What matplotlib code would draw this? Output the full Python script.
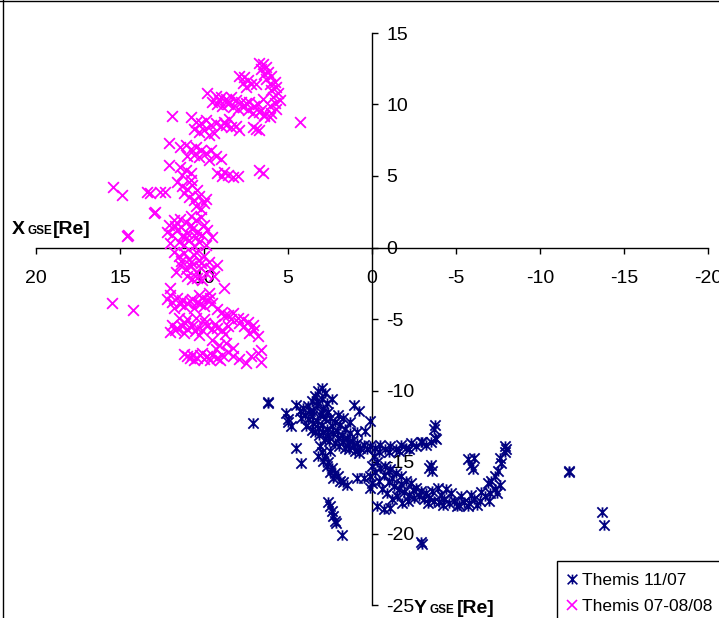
import numpy as np
import matplotlib
import matplotlib.pyplot as plt
from matplotlib.path import Path
from matplotlib.lines import Line2D
from matplotlib.patches import Rectangle

plt.rcParams['font.family'] = ['Liberation Sans', 'DejaVu Sans']
plt.rcParams['axes.unicode_minus'] = False

# ---------------------------------------------------------------------------
# Data (Y_GSE, X_GSE) in Re
# ---------------------------------------------------------------------------
MAGENTA_PTS = [
    # top blob and right column
    (6.7, 12.9), (6.5, 12.8), (6.3, 12.6), (6.6, 12.5), (6.2, 12.3), (6.4, 12.1),
    (6.0, 12.0), (6.3, 11.8), (5.8, 11.6), (6.1, 11.4), (5.7, 11.2), (6.0, 11.0),
    (5.6, 10.8), (5.9, 10.5), (5.5, 10.3), (5.8, 10.1), (6.1, 9.9), (5.7, 9.7),
    (6.0, 9.4), (6.4, 9.2), (6.6, 9.6), (6.8, 10.0), (6.5, 10.4), (6.9, 11.4),
    (7.9, 12.0), (7.6, 11.9), (7.4, 11.7), (7.7, 11.5), (7.2, 11.4), (7.5, 11.2),
    # upper left cluster
    (9.8, 10.8), (9.3, 10.6), (9.0, 10.5), (8.7, 10.4), (8.4, 10.5), (8.1, 10.3),
    (7.8, 10.2), (7.5, 10.1), (9.5, 10.2), (9.2, 10.0), (8.9, 9.9), (8.6, 10.0),
    (8.3, 9.8), (8.0, 9.7), (7.7, 9.8), (7.4, 9.6), (9.1, 10.3), (8.5, 10.2),
    (7.3, 10.2), (7.0, 9.9), (6.7, 9.5), (6.4, 9.3), (6.1, 9.1), (7.1, 9.4),
    (11.9, 9.2), (4.3, 8.8),
    (10.8, 9.1), (10.5, 8.8), (10.2, 8.7), (9.9, 8.9), (9.6, 8.6), (9.3, 8.7),
    (9.0, 8.5), (8.7, 8.6), (8.4, 8.4), (8.1, 8.5), (7.9, 8.2), (10.6, 8.3),
    (10.3, 8.1), (10.0, 8.2), (9.7, 7.9), (9.4, 8.0), (8.8, 8.8), (8.5, 9.0),
    (7.1, 8.4), (6.9, 8.3), (6.7, 8.2),
    (12.1, 7.3),
    (11.4, 7.0), (11.1, 7.2), (10.8, 6.9), (10.5, 7.0), (10.2, 6.8), (9.9, 6.6),
    (9.6, 6.8), (9.3, 6.4), (9.0, 6.2), (10.6, 6.5), (10.3, 6.3), (11.0, 6.4),
    (9.7, 6.1),
    (12.1, 5.8),
    (11.4, 5.6), (11.1, 5.4), (10.8, 5.2), (11.3, 5.1),
    (9.2, 5.2), (8.9, 5.0), (8.6, 5.1), (8.3, 4.9), (8.0, 5.0), (8.8, 5.3),
    (6.7, 5.4), (6.5, 5.2),
    (11.6, 4.6), (11.3, 4.3), (11.0, 4.1), (10.7, 4.4), (10.4, 4.0), (11.2, 3.8),
    (10.9, 3.5), (10.6, 3.3), (10.3, 3.6), (10.0, 3.1), (10.5, 2.9), (10.2, 2.7),
    (9.9, 3.4), (10.8, 4.7),
    (15.4, 4.2), (14.9, 3.7), (13.4, 3.9), (13.2, 3.8), (12.6, 3.9), (12.3, 3.9),
    (13.0, 2.4), (12.9, 2.5), (14.6, 0.8), (14.5, 0.9),
    # column around the X axis
    (12.2, 1.1), (11.9, 0.9), (11.6, 1.2), (11.3, 0.8), (11.0, 1.0), (10.7, 1.3),
    (10.4, 1.1), (10.1, 0.9), (9.8, 1.2), (9.5, 0.7), (11.4, 2.0), (11.1, 1.8),
    (10.8, 1.6), (11.7, 1.5), (10.5, 1.9), (10.2, 2.1), (11.5, 0.4), (11.2, 0.2),
    (10.9, 0.5), (10.6, 0.1), (10.3, 0.4), (12.0, 0.3), (9.9, 0.2), (11.8, 1.9),
    (10.0, 1.6), (11.05, 0.65), (10.45, 0.75), (11.35, 1.45), (10.75, 2.2), (12.1, 1.6),
    (11.8, -0.3), (11.5, -0.6), (11.2, -0.4), (10.9, -0.8), (10.6, -0.5), (10.3, -0.9),
    (10.0, -0.6), (9.7, -1.0), (11.4, -1.2), (11.1, -1.5), (10.8, -1.3), (10.5, -1.7),
    (10.2, -1.4), (9.9, -1.8), (9.6, -1.5), (11.0, -2.0), (10.7, -2.2), (10.4, -2.1),
    (10.1, -2.3), (9.4, -2.0), (9.2, -1.2),
    (11.35, -0.95), (10.75, -1.0), (10.15, -1.1), (10.45, -0.3), (11.65, -1.7),
    (12.0, -2.8), (8.8, -2.8),
    (15.5, -3.9), (14.2, -4.4),
    # lower part
    (12.2, -3.6), (11.9, -3.8), (11.6, -3.5), (11.3, -3.7), (11.0, -3.9), (10.7, -3.6),
    (10.4, -3.8), (10.1, -3.5), (9.8, -3.7), (9.5, -3.9), (11.8, -4.2), (11.2, -4.1),
    (10.6, -4.2), (10.0, -4.1), (9.7, -3.2), (10.3, -3.3),
    (11.45, -3.95), (10.85, -3.75), (10.25, -3.95), (9.65, -3.55), (12.0, -3.3),
    (9.2, -4.3), (8.9, -4.5), (8.6, -4.7), (8.3, -4.6), (8.0, -4.9), (7.7, -5.0),
    (7.4, -5.2), (7.1, -5.4), (8.8, -4.8), (8.4, -5.0), (7.9, -5.3), (7.6, -5.5),
    (7.0, -5.8), (6.8, -6.2), (7.3, -6.0),
    (11.5, -4.9), (11.0, -5.0), (10.5, -4.9), (10.0, -5.0), (11.9, -5.4), (11.6, -5.6),
    (11.3, -5.5), (11.0, -5.7), (10.7, -5.5), (10.4, -5.6), (10.1, -5.8), (9.8, -5.5),
    (9.5, -5.7), (9.2, -5.6), (8.9, -5.8), (8.6, -5.5), (12.0, -5.9), (11.2, -6.0),
    (10.3, -6.1), (11.75, -5.75), (11.15, -5.25), (10.55, -5.85), (9.95, -5.25),
    (9.35, -5.35), (8.75, -6.05),
    (9.5, -6.5), (9.1, -6.8), (8.7, -6.7), (8.3, -7.0), (9.3, -7.1),
    (11.0, -7.6), (10.7, -7.5), (10.4, -7.7), (10.1, -7.4), (9.8, -7.6), (9.5, -7.5),
    (9.2, -7.7), (8.9, -7.5), (10.6, -7.9), (10.0, -7.8), (8.6, -7.3), (8.3, -7.6),
    (7.9, -7.8), (7.5, -8.1), (7.2, -7.6), (6.8, -7.4), (6.6, -8.0), (6.6, -7.2),
    (10.85, -7.75), (10.25, -7.55), (9.65, -7.85), (9.05, -7.9), (11.2, -7.45),
]

NAVY_PTS = [
    (7.1, -12.3), (6.2, -10.8), (6.2, -10.9),
    (5.1, -11.6), (5.0, -12.0), (4.8, -12.5), (5.0, -12.2),
    (4.5, -14.0), (4.2, -15.1),
    # top blob
    (3.0, -9.8), (3.2, -10.0), (2.8, -10.2), (3.4, -10.4), (3.0, -10.6), (3.6, -10.7),
    (2.7, -10.9), (3.3, -11.0), (2.9, -11.3), (3.5, -11.4), (2.6, -11.5), (3.1, -11.7),
    (3.8, -11.1), (2.4, -10.6), (2.95, -11.55), (3.3, -10.75),
    # upper diagonal band
    (4.5, -11.0), (4.3, -11.4), (4.1, -11.2), (4.0, -11.7), (3.8, -12.0), (3.6, -11.8),
    (3.5, -12.3), (3.3, -12.1), (3.2, -12.6), (3.0, -12.4), (2.9, -12.9), (2.7, -12.7),
    (2.6, -13.1), (2.4, -12.5), (2.3, -13.0), (2.1, -12.8), (2.0, -13.3), (1.8, -13.1),
    (1.7, -13.5), (1.5, -13.3), (1.4, -13.7), (1.2, -13.5), (1.1, -13.9), (0.9, -13.7),
    (0.7, -14.0), (0.5, -13.8), (0.3, -14.1), (0.1, -13.9), (2.2, -12.2), (2.5, -11.9),
    (2.8, -11.9), (1.9, -12.4), (1.6, -12.7), (1.3, -13.0), (3.9, -12.5), (3.4, -12.9),
    (2.8, -13.4), (2.2, -13.7), (1.6, -14.0), (1.0, -14.2), (4.2, -11.9), (3.7, -11.4),
    (3.55, -12.75), (3.15, -13.1), (2.55, -13.5), (1.95, -13.85), (1.35, -14.1),
    (0.75, -14.35),
    (1.1, -11.0), (0.8, -11.4), (1.3, -12.2), (0.9, -12.9), (0.4, -12.8), (0.1, -12.1),
    (2.0, -11.7), (1.7, -11.9),
    # horizontal band
    (-0.2, -14.0), (-0.5, -13.8), (-0.8, -14.1), (-1.1, -13.9), (-1.4, -14.1), (-1.7, -13.8),
    (-2.0, -14.0), (-2.3, -13.7), (-2.6, -13.9), (-2.9, -13.6), (-3.2, -13.8), (-3.5, -13.6),
    (-3.8, -13.4), (-0.4, -14.3), (-1.0, -14.3), (-1.6, -14.2), (-2.2, -14.1),
    (-3.75, -12.4), (-3.75, -13.3), (-3.0, -13.6), (-3.7, -12.7),
    # lower diagonal branch
    (3.1, -13.9), (3.0, -14.3), (2.8, -14.6), (2.9, -14.9), (2.6, -15.0), (2.7, -15.3),
    (2.4, -15.4), (2.5, -15.7), (2.2, -15.8), (2.3, -16.1), (2.0, -16.0), (1.9, -16.3),
    (1.7, -16.4), (1.5, -16.6), (3.2, -14.6), (2.5, -14.2),
    (0.9, -16.1), (0.5, -16.1), (0.1, -16.8), (0.0, -16.5),
    (2.6, -17.8), (2.5, -18.1), (2.4, -18.4), (2.3, -18.8), (2.2, -19.1), (2.15, -19.3),
    (1.8, -20.1),
    (-0.3, -18.1), (-0.7, -18.3), (-1.1, -18.2), (-1.8, -17.9),
    (-2.9, -20.6), (-3.0, -20.7),
    # lower arc
    (-0.1, -14.6), (-0.3, -15.0), (0.0, -15.3), (-0.2, -15.7), (-0.5, -15.4), (-0.7, -15.9),
    (-1.0, -15.6), (0.1, -16.0), (-0.4, -16.3), (-1.2, -16.1),
    (-0.8, -15.3), (-1.1, -15.5), (-1.4, -15.8), (-1.7, -16.0), (-2.0, -16.3), (-2.3, -16.5),
    (-2.6, -16.8), (-2.9, -17.0), (-3.2, -17.2), (-1.0, -16.4), (-1.3, -16.7), (-1.6, -16.9),
    (-1.9, -17.1), (-2.2, -17.3), (-2.5, -17.5), (-2.8, -17.4), (-3.1, -17.6), (-1.5, -17.4),
    (-0.6, -16.9), (-0.9, -17.2),
    (-1.75, -16.55), (-2.45, -16.95), (-2.15, -17.7), (-1.2, -17.6),
    (-3.4, -17.5), (-3.7, -17.7), (-4.0, -17.8), (-4.3, -17.6), (-4.6, -17.9), (-4.9, -17.7),
    (-5.2, -18.0), (-5.5, -17.8), (-5.8, -17.9), (-6.1, -17.6), (-6.4, -17.7), (-6.7, -17.4),
    (-7.0, -17.2), (-7.3, -16.9), (-7.6, -16.6), (-4.1, -17.3), (-4.7, -17.2), (-5.3, -17.4),
    (-5.9, -17.3), (-6.5, -17.1), (-3.6, -17.0), (-5.7, -18.1), (-4.4, -16.9), (-3.9, -16.8),
    (-3.35, -17.9), (-4.25, -18.0), (-5.05, -18.05), (-6.25, -18.0), (-6.95, -17.7),
    (-7.45, -17.15),
    (-7.3, -16.0), (-7.5, -15.6), (-7.7, -15.1), (-7.6, -14.7), (-7.9, -14.3), (-7.9, -13.9),
    (-8.0, -14.1), (-7.1, -16.3), (-6.9, -16.5),
    (-3.5, -15.2), (-3.6, -15.6), (-3.4, -15.4),
    (-5.7, -14.8), (-6.1, -14.7), (-5.9, -15.2), (-6.0, -15.5),
    (-11.7, -15.7), (-11.7, -15.6),
    (-13.7, -18.5), (-13.8, -19.4),
]

X_TICKS = [20, 15, 10, 5, 0, -5, -10, -15, -20]
Y_TICKS = [15, 10, 5, 0, -5, -10, -15, -20, -25]
LABELS = ['Themis 11/07', 'Themis 07-08/08']

W, H = 719, 618

# Excel style "star" marker: an x with a vertical bar
star = Path([(-1, -1), (1, 1), (-1, 1), (1, -1), (0, -1), (0, 1)],
            [Path.MOVETO, Path.LINETO, Path.MOVETO, Path.LINETO, Path.MOVETO, Path.LINETO])

fig = plt.figure(figsize=(W / 100, H / 100), dpi=100)
ax = fig.add_axes([0, 0, 1, 1])
ax.patch.set_visible(False)

navy = np.array(NAVY_PTS)
mag = np.array(MAGENTA_PTS)
ax.scatter(navy[:, 0], navy[:, 1], marker=star, s=55, c='#000080', linewidths=1.3, zorder=3)
ax.scatter(mag[:, 0], mag[:, 1], marker='x', s=60, c='#FF00FF', linewidths=1.3, zorder=3)

# pixel -> data mapping: 0 at x=372 px, 16.8 px/unit ; 0 at y=247.5 px, 14.3 px/unit
ax.set_xlim(372 / 16.8, (372 - W) / 16.8)
ax.set_ylim((247.5 - H) / 14.3, 247.5 / 14.3)

ax.spines['top'].set_visible(False)
ax.spines['left'].set_visible(False)
ax.spines['bottom'].set_position(('data', 0))
ax.spines['right'].set_position(('data', 0))
ax.spines['bottom'].set_bounds(-20, 20)
ax.spines['right'].set_bounds(-25, 15)
for s in ('bottom', 'right'):
    ax.spines[s].set_linewidth(1.0)

ax.set_xticks(X_TICKS)
ax.set_yticks(Y_TICKS)
ax.set_xticklabels([str(v) for v in X_TICKS])
ax.set_yticklabels([str(v) for v in Y_TICKS])
ax.yaxis.tick_right()
ax.tick_params(axis='x', direction='out', length=4, width=1.0, pad=12, labelsize=14)
ax.tick_params(axis='y', direction='out', length=4.5, width=1.0, pad=6, labelsize=14)

# axis titles
def px(x, y):
    return x / W, 1 - y / H

fig.text(*px(12, 234), 'X', fontsize=14, fontweight='bold', va='baseline')
fig.text(*px(27.5, 234), 'GSE', fontsize=8.5, fontweight='bold', va='baseline')
fig.text(*px(53, 234), '[Re]', fontsize=14, fontweight='bold', va='baseline')
fig.text(*px(414, 613), 'Y', fontsize=14, fontweight='bold', va='baseline')
fig.text(*px(430, 613), 'GSE', fontsize=8.5, fontweight='bold', va='baseline')
fig.text(*px(457, 613), '[Re]', fontsize=14, fontweight='bold', va='baseline')

# outer frame (only top and left visible in the crop)
fig.add_artist(Line2D([2.5 / W, 2.5 / W], [0, 1], color='black', lw=1.0))
fig.add_artist(Line2D([0, 1], [1 - 0.8 / H, 1 - 0.8 / H], color='black', lw=1.0))

# legend
fig.add_artist(Rectangle(px(557, 640), 200 / W, 79 / H, fill=False, ec='black', lw=1.0))
handles = [
    Line2D([], [], ls='none', marker=star, ms=7, mec='#000080', mew=1.2),
    Line2D([], [], ls='none', marker='x', ms=7, mec='#FF00FF', mew=1.2),
]
ax.legend(handles, LABELS, loc='upper left', bbox_to_anchor=px(550, 559),
          bbox_transform=fig.transFigure, frameon=False, fontsize=12.5,
          handlelength=0.9, handletextpad=0.15, labelspacing=0.65, borderpad=0.3)

plt.savefig('out.png', dpi=100)
